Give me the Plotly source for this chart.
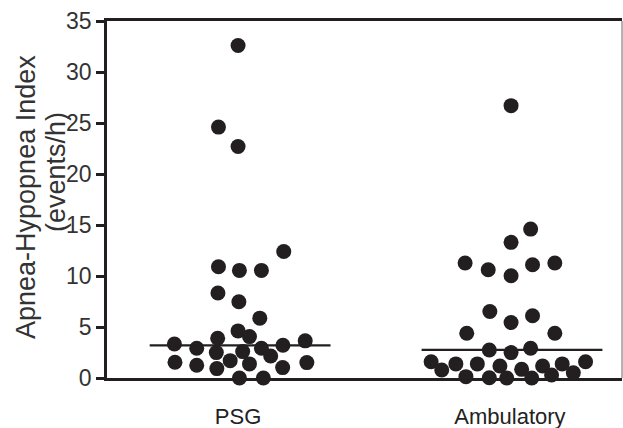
import plotly.graph_objects as go

categories = ["PSG", "Ambulatory"]

psg_values = [32.6, 24.6, 22.7, 12.4, 10.9, 10.55, 10.55, 8.33, 7.47, 5.87,
              4.62, 4.06, 3.9, 3.34, 2.92, 2.49, 2.59, 2.92, 3.21, 3.64,
              2.16, 1.70, 1.38, 1.54, 1.25, 0.92, 1.02, 1.51, 0.0, 0.0]
psg_jitter = [0.0, -0.072, 0.0, 0.168, -0.072, 0.005, 0.086, -0.074, 0.003, 0.080,
              0.0, 0.042, -0.075, -0.234, -0.152, -0.080, 0.017, 0.086, 0.165, 0.247,
              0.120, -0.029, 0.042, -0.232, -0.152, -0.078, 0.164, 0.253, 0.005, 0.093]

amb_values = [26.7, 14.6, 13.3, 11.28, 10.62, 10.03, 11.1, 11.28, 6.52, 5.44,
              6.1, 4.39, 4.39, 2.75, 2.49, 2.92, 1.60, 0.79, 1.38, 1.38,
              1.18, 0.85, 1.18, 1.38, 1.60, 0.13, 0.03, 0.0, 0.0, 0.3, 0.52]
amb_jitter = [0.004, 0.076, 0.004, -0.165, -0.080, 0.004, 0.083, 0.165, -0.074, 0.004,
              0.083, -0.159, 0.165, -0.076, 0.004, 0.076, -0.290, -0.251, -0.199, -0.120,
              -0.037, 0.043, 0.120, 0.192, 0.278, -0.162, -0.076, -0.012, 0.080, 0.153, 0.233]

medians = [3.2, 2.75]

y_ticks = [0, 5, 10, 15, 20, 25, 30, 35]

y_title_lines = ["Apnea-Hypopnea Index", "(events/h)"]

dot_color = "#231f20"
line_color = "#231f20"
font_family = "Liberation Sans, Arial, sans-serif"

fig = go.Figure()

groups = [(1, psg_values, psg_jitter), (2, amb_values, amb_jitter)]
for pos, vals, jit in groups:
    fig.add_trace(go.Scatter(
        x=[pos + j for j in jit], y=vals, mode="markers",
        marker=dict(size=15, color=dot_color, line=dict(width=0)),
        cliponaxis=False, showlegend=False, hoverinfo="y"))

for pos, m in zip([1, 2], medians):
    fig.add_trace(go.Scatter(
        x=[pos - 0.325, pos + 0.34], y=[m, m], mode="lines",
        line=dict(color=line_color, width=2.2),
        cliponaxis=False, showlegend=False, hoverinfo="skip"))

fig.update_layout(
    width=623, height=428, autosize=False,
    margin=dict(l=107, r=1, t=21, b=50),
    paper_bgcolor="white", plot_bgcolor="white",
    font=dict(family=font_family, color="#333333"),
    xaxis=dict(
        range=[0.518, 2.412], showgrid=False, zeroline=False, automargin=False,
        showline=True, linecolor="#231f20", linewidth=2.5, mirror=True,
        tickvals=[1, 2], ticktext=categories,
        ticks="outside", ticklen=17, tickcolor="rgba(0,0,0,0)",
        tickfont=dict(size=22, color="#222222")),
    yaxis=dict(
        range=[0, 35], showgrid=False, zeroline=False, automargin=False,
        showline=True, linecolor="#231f20", linewidth=2.5,
        tickvals=y_ticks, ticks="outside", ticklen=8, tickwidth=2.5,
        tickcolor="#231f20",
        tickfont=dict(size=23, color="#333333")),
    annotations=[
        dict(text=y_title_lines[0], xref="paper", yref="paper", x=0, y=0.507,
             xanchor="center", yanchor="middle", xshift=-81, textangle=-90,
             showarrow=False, font=dict(size=27, color="#333333")),
        dict(text=y_title_lines[1], xref="paper", yref="paper", x=0, y=0.577,
             xanchor="center", yanchor="middle", xshift=-51, textangle=-90,
             showarrow=False, font=dict(size=27, color="#333333")),
    ],
    shapes=[dict(type="line", xref="paper", yref="paper", x0=1, x1=1, y0=0, y1=1,
                 line=dict(color="#666666", width=1))],
)

fig.write_html(
    "out.html",
    config={"responsive": False, "displayModeBar": False},
    post_script="document.body.style.margin='0';document.body.style.overflow='hidden';",
)
